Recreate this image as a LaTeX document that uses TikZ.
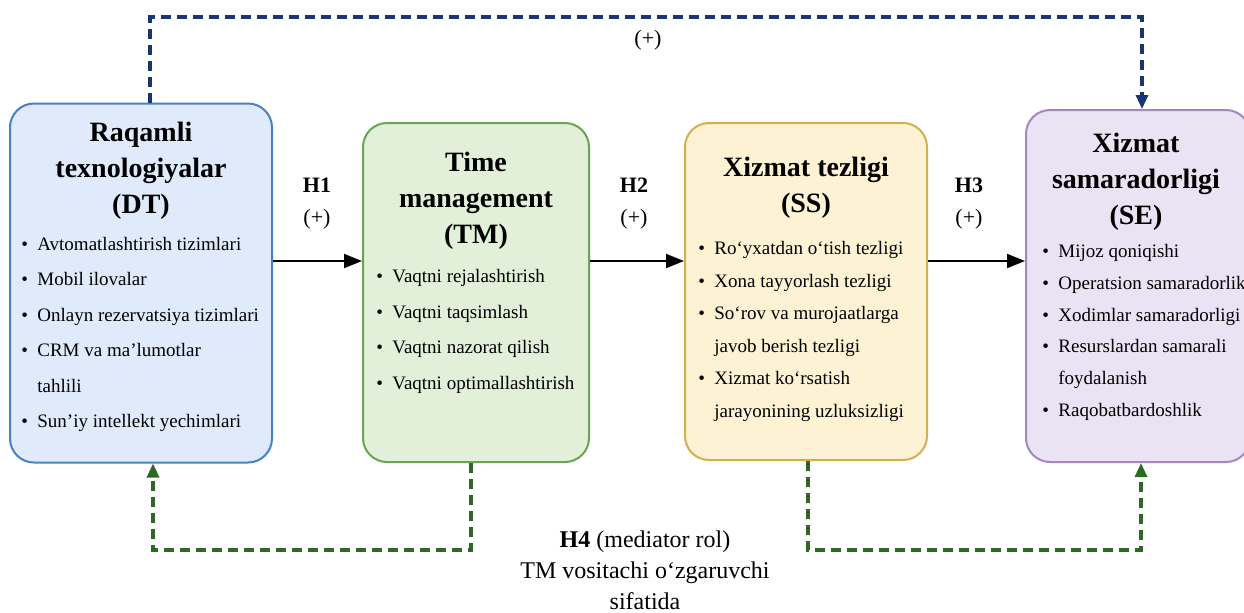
\documentclass[tikz,border=0pt]{standalone}
\usepackage{fontspec}
\setmainfont{Liberation Serif}
\usetikzlibrary{arrows.meta,positioning}

\definecolor{dtfill}{RGB}{223,235,250}
\definecolor{dtline}{RGB}{72,128,198}
\definecolor{tmfill}{RGB}{226,240,217}
\definecolor{tmline}{RGB}{104,164,82}
\definecolor{ssfill}{RGB}{253,243,212}
\definecolor{ssline}{RGB}{214,174,78}
\definecolor{sefill}{RGB}{234,227,244}
\definecolor{seline}{RGB}{164,134,194}
\definecolor{navy}{RGB}{24,52,114}
\definecolor{medgreen}{RGB}{44,106,36}

\newcommand{\bul}{\makebox[8pt][l]{\textbullet}}
\newcommand{\ind}{\hspace*{8pt}}

\tikzset{
  box/.style={draw,line width=1pt,rounded corners=12pt,inner sep=0pt},
  head/.style={anchor=north,inner sep=0pt,align=center,
    font=\fontsize{14}{18}\selectfont\bfseries},
  items/.style={anchor=north west,inner sep=0pt,align=left},
  hyp/.style={align=center,inner sep=0pt,font=\fontsize{11}{16}\selectfont},
  link/.style={line width=1pt,-{Triangle[length=9pt,width=7pt]}},
  direct/.style={navy,line width=1.6pt,dash pattern=on 5pt off 3pt,
    -{Triangle[length=7pt,width=6pt]}},
  mediate/.style={medgreen,line width=1.6pt,dash pattern=on 5pt off 3pt,
    -{Triangle[length=7pt,width=6pt]}},
}

\begin{document}
\begin{tikzpicture}[x=0.5pt,y=-0.5pt]
\useasboundingbox (0,0) rectangle (1244,612);

% the four constructs
\node[box,draw=dtline,fill=dtfill,minimum width=131pt,minimum height=179.5pt] (DT) at (141,283) {};
\node[box,draw=tmline,fill=tmfill,minimum width=113pt,minimum height=169.5pt] (TM) at (476,292.5) {};
\node[box,draw=ssline,fill=ssfill,minimum width=121pt,minimum height=168.5pt] (SS) at (806,291.5) {};
\node[box,draw=seline,fill=sefill,minimum width=112pt,minimum height=176pt] (SE) at (1138,286) {};

\node[head] (dthead) at (141,122) {Raqamli\\texnologiyalar\\(DT)};
\node[head] (tmhead) at (476,152) {Time\\management\\(TM)};
\node[head] (sshead) at (806,157) {Xizmat tezligi\\(SS)};
\node[head] (sehead) at (1136,133) {Xizmat\\samaradorligi\\(SE)};

\node[items,font=\fontsize{9.5}{17.7}\selectfont] (dtlist) at (21,237) {
\bul Avtomatlashtirish tizimlari\\
\bul Mobil ilovalar\\
\bul Onlayn rezervatsiya tizimlari\\
\bul CRM va ma’lumotlar\\
\ind tahlili\\
\bul Sun’iy intellekt yechimlari};

\node[items,font=\fontsize{9.5}{17.8}\selectfont] (tmlist) at (376,269) {
\bul Vaqtni rejalashtirish\\
\bul Vaqtni taqsimlash\\
\bul Vaqtni nazorat qilish\\
\bul Vaqtni optimallashtirish};

\node[items,font=\fontsize{9.5}{16.3}\selectfont] (sslist) at (698,241) {
\bul Ro‘yxatdan o‘tish tezligi\\
\bul Xona tayyorlash tezligi\\
\bul So‘rov va murojaatlarga\\
\ind javob berish tezligi\\
\bul Xizmat ko‘rsatish\\
\ind jarayonining uzluksizligi};

\node[items,font=\fontsize{9.5}{15.9}\selectfont] (selist) at (1042,244) {
\bul Mijoz qoniqishi\\
\bul Operatsion samaradorlik\\
\bul Xodimlar samaradorligi\\
\bul Resurslardan samarali\\
\ind foydalanish\\
\bul Raqobatbardoshlik};

% hypotheses H1--H3
\coordinate (row) at (0,261);
\draw[link] (DT.east |- row) -- (TM.west |- row);
\draw[link] (TM.east |- row) -- (SS.west |- row);
\draw[link] (SS.east |- row) -- (SE.west |- row);

\node[hyp] (h1) at (317,204) {\textbf{H1}\\(+)};
\node[hyp] (h2) at (634,204) {\textbf{H2}\\(+)};
\node[hyp] (h3) at (969,204) {\textbf{H3}\\(+)};

% direct effect
\coordinate (t1) at (150,17);
\coordinate (t2) at (1142,17);
\draw[direct] (DT.north -| t1) -- (t1) -- (t2) -- (SE.north -| t2);
\node[hyp] (plus) at (648,40) {(+)};

% mediation H4
\coordinate (b1) at (471,550);
\coordinate (b2) at (153,550);
\coordinate (b3) at (808,550);
\coordinate (b4) at (1141,550);
\draw[mediate] (TM.south -| b1) -- (b1) -- (b2) -- (DT.south -| b2);
\draw[mediate] (SS.south -| b3) -- (b3) -- (b4) -- (SE.south -| b4);

\node[hyp,font=\fontsize{12}{15.5}\selectfont] (h4) at (645,570)
  {\textbf{H4} (mediator rol)\\TM vositachi o‘zgaruvchi\\sifatida};

\end{tikzpicture}
\end{document}
